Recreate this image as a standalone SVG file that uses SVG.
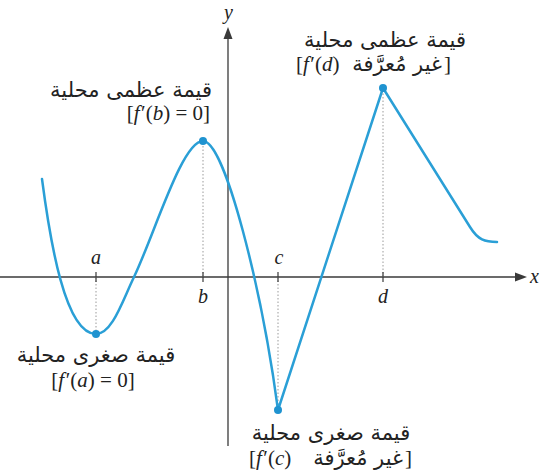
<svg xmlns="http://www.w3.org/2000/svg" width="540" height="476" viewBox="0 0 540 476">
<style>
.ax{stroke:#3a3a3a;stroke-width:1.3;fill:none}
.tick{stroke:#3a3a3a;stroke-width:1.2}
.dot{stroke:#9a9a9a;stroke-width:1;stroke-dasharray:1.5 2;fill:none}
.curve{stroke:#2a9fd6;stroke-width:2.5;fill:none;stroke-linejoin:round;stroke-linecap:round}
.pt{fill:#1f93d0}
.ar{font-family:"DejaVu Sans",sans-serif;font-size:21px;fill:#222}
.m{font-family:"Liberation Serif",serif;font-size:21px;fill:#222}
.l{font-family:"Liberation Serif",serif;font-size:20px;fill:#222;font-style:italic}
.i{font-style:italic}
</style>
<rect width="540" height="476" fill="#fff"/>
<g id="axes">
<line class="ax" x1="0" y1="277" x2="518" y2="277"/>
<polygon points="527,277 515,272.5 515,281.5" fill="#3a3a3a"/>
<line class="ax" x1="228" y1="446" x2="228" y2="36"/>
<polygon points="228,27 223.5,39 232.5,39" fill="#3a3a3a"/>
<text class="l" x="530" y="283">x</text>
<text class="l" x="224" y="19">y</text>
</g>
<g id="guides">
<line class="dot" x1="96" y1="277" x2="96" y2="334"/>
<line class="dot" x1="203" y1="277" x2="203" y2="141"/>
<line class="dot" x1="278" y1="277" x2="278" y2="410"/>
<line class="dot" x1="383" y1="277" x2="383" y2="88"/>
<line class="tick" x1="96" y1="272" x2="96" y2="282"/>
<line class="tick" x1="203" y1="272" x2="203" y2="282"/>
<line class="tick" x1="278" y1="272" x2="278" y2="282"/>
<line class="tick" x1="383" y1="272" x2="383" y2="282"/>
<text class="l" x="96" y="264" text-anchor="middle">a</text>
<text class="l" x="203" y="303" text-anchor="middle">b</text>
<text class="l" x="279" y="264" text-anchor="middle">c</text>
<text class="l" x="383" y="303" text-anchor="middle">d</text>
</g>
<g id="connectors">
<path class="curve" d="M42,179 C50,240 65,334 96,334 C112,334 122,302 134,277 C155,233 182,141 203,141 C225,141 262,290 278,410 L383,88 L470,227 C478,240 485,242 497,242"/>
</g>
<g id="point-a">
<circle class="pt" cx="96" cy="334" r="4"/>
<text class="ar" x="96" y="362" text-anchor="middle">قيمة صغرى محلية</text>
<text class="m" x="93" y="387" text-anchor="middle">[<tspan class="i">f</tspan><tspan dx="1.5">′(</tspan><tspan class="i">a</tspan>) = 0]</text>
</g>
<g id="point-b">
<circle class="pt" cx="203" cy="141" r="4"/>
<text class="ar" x="212" y="97" text-anchor="end">قيمة عظمى محلية</text>
<text class="m" x="210" y="120" text-anchor="end">[<tspan class="i">f</tspan><tspan dx="1.5">′(</tspan><tspan class="i">b</tspan>) = 0]</text>
</g>
<g id="point-c">
<circle class="pt" cx="278" cy="410" r="4"/>
<text class="ar" x="331" y="440" text-anchor="middle">قيمة صغرى محلية</text>
<text class="m" x="249" y="465">[<tspan class="i">f</tspan><tspan dx="1.5">′(</tspan><tspan class="i">c</tspan>)</text>
<text class="ar" x="403" y="465" text-anchor="end">غير مُعرَّفة</text>
<text class="m" x="405" y="465">]</text>
</g>
<g id="point-d">
<circle class="pt" cx="383" cy="88" r="4"/>
<text class="ar" x="385" y="47" text-anchor="middle">قيمة عظمى محلية</text>
<text class="m" x="296" y="71">[<tspan class="i">f</tspan><tspan dx="1.5">′(</tspan><tspan class="i">d</tspan>)</text>
<text class="ar" x="442" y="71" text-anchor="end">غير مُعرَّفة</text>
<text class="m" x="444" y="71">]</text>
</g>
</svg>
